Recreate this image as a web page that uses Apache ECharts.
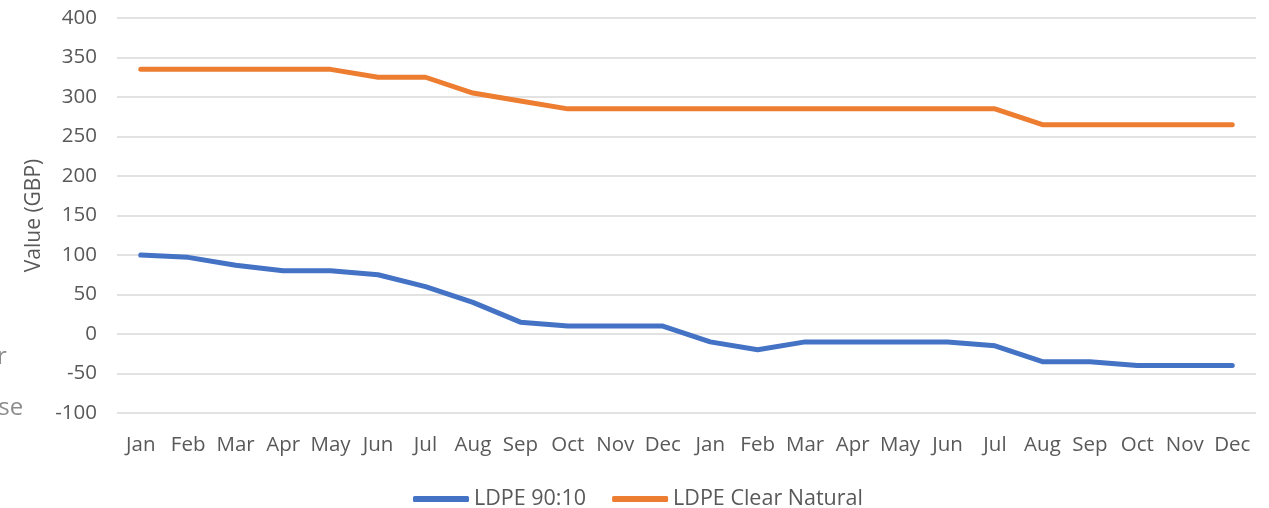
<!DOCTYPE html>
<html>
<head>
<meta charset="utf-8">
<script src="https://cdn.jsdelivr.net/npm/echarts@6/dist/echarts.min.js"></script>
<style>html,body{margin:0;padding:0;background:#fff}#c{width:1269px;height:508px}</style>
</head>
<body>
<div id="c"></div>
<script>
const categories = ["Jan","Feb","Mar","Apr","May","Jun","Jul","Aug","Sep","Oct","Nov","Dec","Jan","Feb","Mar","Apr","May","Jun","Jul","Aug","Sep","Oct","Nov","Dec"];
const ldpe9010 = [100,97,87,80,80,75,60,40,15,10,10,10,-10,-20,-10,-10,-10,-10,-15,-35,-35,-40,-40,-40];
const ldpeClear = [335,335,335,335,335,325,325,305,295,285,285,285,285,285,285,285,285,285,285,265,265,265,265,265];
const yTicks = {min:-100, max:400, interval:50};

const chart = echarts.init(document.getElementById('c'));
const font = '"Open Sans", "Noto Sans", sans-serif';
chart.setOption({
  animation:false,
  grid:{left:117, right:13, top:18, bottom:95},
  legend:{
    top:483, left:408,
    itemWidth:56, itemHeight:6, itemGap:26,
    icon:'roundRect',
    textStyle:{color:'#595959', fontSize:21.5, fontFamily:font, padding:[0,0,0,0]},
    data:['LDPE 90:10','LDPE Clear Natural']
  },
  xAxis:{
    type:'category', data:categories, boundaryGap:true,
    axisLine:{show:false}, axisTick:{show:false},
    axisLabel:{color:'#595959', fontSize:20.5, fontFamily:font, margin:22, interval:0}
  },
  yAxis:{
    type:'value', min:yTicks.min, max:yTicks.max, interval:yTicks.interval,
    name:'Value (GBP)', nameLocation:'middle', nameGap:72, nameRotate:90,
    nameTextStyle:{color:'#595959', fontSize:21, fontFamily:font},
    axisLabel:{color:'#595959', fontSize:20.5, fontFamily:font, margin:20},
    splitLine:{lineStyle:{color:'#d9d9d9', width:1.5}},
    axisLine:{show:false}, axisTick:{show:false}
  },
  graphic:[
    {type:'text', left:-3, top:345, style:{text:'r', fill:'#8c8c8c', font:'24px '+font}},
    {type:'text', left:-15, top:396, style:{text:'ase', fill:'#8c8c8c', font:'24px '+font}}
  ],
  series:[
    {name:'LDPE 90:10', type:'line', data:ldpe9010, symbol:'none',
     lineStyle:{color:'#4472C4', width:5, cap:'round', join:'round'}, itemStyle:{color:'#4472C4'}},
    {name:'LDPE Clear Natural', type:'line', data:ldpeClear, symbol:'none',
     lineStyle:{color:'#ED7D31', width:5, cap:'round', join:'round'}, itemStyle:{color:'#ED7D31'}}
  ]
});
</script>
</body>
</html>
